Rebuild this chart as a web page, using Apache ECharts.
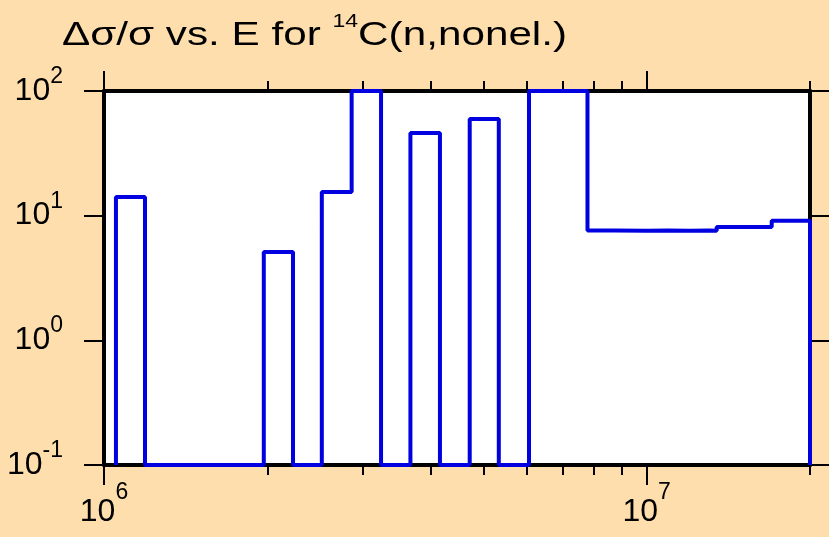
<!DOCTYPE html>
<html>
<head>
<meta charset="utf-8">
<script src="https://cdn.jsdelivr.net/npm/echarts@6/dist/echarts.min.js"></script>
<style>
html,body{margin:0;padding:0;background:#ffdead;}
#c{width:829px;height:537px;}
</style>
</head>
<body>
<div id="c"></div>
<script>
// Bin lower edges (eV) and relative uncertainty values (%) for each bin
var binEdges = [1.052e6, 1.19e6, 1.97e6, 2.23e6, 2.52e6, 2.86e6, 3.24e6, 3.67e6, 4.16e6, 4.72e6, 5.34e6, 6.07e6, 7.78e6, 8.73e6, 1.0e7, 1.093e7, 1.2e7, 1.306e7, 1.346e7, 1.70e7, 2.0e7];
var binValues = [14.1, 0.1, 5.1, 0.1, 15.5, 100, 0.1, 46, 0.1, 59.6, 0.1, 100, 7.62, 7.57, 7.62, 7.57, 7.62, 7.57, 8.12, 9.12];
var floorValue = 0.1;

var xMajorTicks = [1e6, 1e7];
var xMinorTicks = [2e6, 3e6, 4e6, 5e6, 6e6, 7e6, 8e6, 9e6, 2e7];
var yMajorTicks = [0.1, 1, 10, 100];

var titleParts = ['\u0394\u03c3/\u03c3 vs. E for ', '14', 'C(n,nonel.)'];

// Build step data
var stepData = [[binEdges[0], floorValue]];
for (var i = 0; i < binValues.length; i++) {
  stepData.push([binEdges[i], binValues[i]]);
}
stepData.push([binEdges[binEdges.length - 1], binValues[binValues.length - 1]]);
stepData.push([binEdges[binEdges.length - 1], floorValue]);

var ZW = '\u200b';
function powLabel(v) {
  var e = Math.round(Math.log10(v));
  return '{h|' + ZW + '}{b|10}{s|' + e + '}';
}
function makeRich(boxHeight) {
  return {
    h: {fontSize: 10, lineHeight: boxHeight, verticalAlign: 'middle'},
    b: {fontFamily: 'Liberation Sans', fontSize: 32, lineHeight: 32, verticalAlign: 'middle', color: '#000'},
    s: {fontFamily: 'Liberation Sans', fontSize: 23, lineHeight: 23, verticalAlign: 'top', color: '#000'}
  };
}

var chart = echarts.init(document.getElementById('c'), null, {renderer: 'canvas'});
var blackLine = {color: '#000', width: 4};
var option = {
  backgroundColor: '#ffdead',
  animation: false,
  grid: {left: 104, right: 19, top: 91, bottom: 72, show: true, backgroundColor: '#fff', borderWidth: 0},
  graphic: [{
    type: 'text',
    x: 62, y: 13,
    scaleX: 1.28,
    style: {
      text: '{h|' + ZW + '}{t|' + titleParts[0] + '}{s|' + titleParts[1] + '}{t|' + titleParts[2] + '}',
      rich: {
        h: {fontSize: 10, lineHeight: 45, verticalAlign: 'middle'},
        t: {fontFamily: 'Liberation Sans', fontSize: 33, lineHeight: 33, verticalAlign: 'middle', fill: '#000'},
        s: {fontFamily: 'Liberation Sans', fontSize: 18, lineHeight: 18, verticalAlign: 'top', fill: '#000'}
      }
    }
  }],
  xAxis: [
    {type: 'log', logBase: 10, position: 'bottom', min: 1e6, max: 2e7,
     axisLine: {show: true, lineStyle: blackLine},
     axisTick: {show: true, length: 20, lineStyle: {color: '#000', width: 2}, customValues: xMajorTicks},
     axisLabel: {show: true, margin: 16, customValues: xMajorTicks, formatter: powLabel, rich: makeRich(62)},
     splitLine: {show: false}, minorTick: {show: false}},
    {type: 'log', logBase: 10, position: 'bottom', offset: 0, min: 1e6, max: 2e7,
     axisLine: {show: false},
     axisTick: {show: true, length: 10, lineStyle: {color: '#000', width: 2}, customValues: xMinorTicks},
     axisLabel: {show: false}, splitLine: {show: false}},
    {type: 'log', logBase: 10, position: 'top', offset: 0, min: 1e6, max: 2e7,
     axisLine: {show: true, lineStyle: blackLine},
     axisTick: {show: true, length: 20, lineStyle: {color: '#000', width: 2}, customValues: xMajorTicks},
     axisLabel: {show: false}, splitLine: {show: false}},
    {type: 'log', logBase: 10, position: 'top', offset: 0, min: 1e6, max: 2e7,
     axisLine: {show: false},
     axisTick: {show: true, length: 10, lineStyle: {color: '#000', width: 2}, customValues: xMinorTicks},
     axisLabel: {show: false}, splitLine: {show: false}}
  ],
  yAxis: [
    {type: 'log', logBase: 10, position: 'left', min: 0.1, max: 100,
     axisLine: {show: true, lineStyle: blackLine},
     axisTick: {show: true, length: 20, lineStyle: {color: '#000', width: 2}, customValues: yMajorTicks},
     axisLabel: {show: true, margin: 41, customValues: yMajorTicks, formatter: powLabel, rich: makeRich(52)},
     splitLine: {show: false}},
    {type: 'log', logBase: 10, position: 'right', offset: 0, min: 0.1, max: 100,
     axisLine: {show: true, lineStyle: blackLine},
     axisTick: {show: true, length: 20, lineStyle: {color: '#000', width: 2}, customValues: yMajorTicks},
     axisLabel: {show: false}, splitLine: {show: false}}
  ],
  series: [{
    type: 'line',
    xAxisIndex: 0, yAxisIndex: 0,
    step: 'end',
    data: stepData,
    showSymbol: false,
    symbol: 'none',
    lineStyle: {color: '#0000e0', width: 4},
    z: 2
  }]
};
chart.setOption(option);
</script>
</body>
</html>
